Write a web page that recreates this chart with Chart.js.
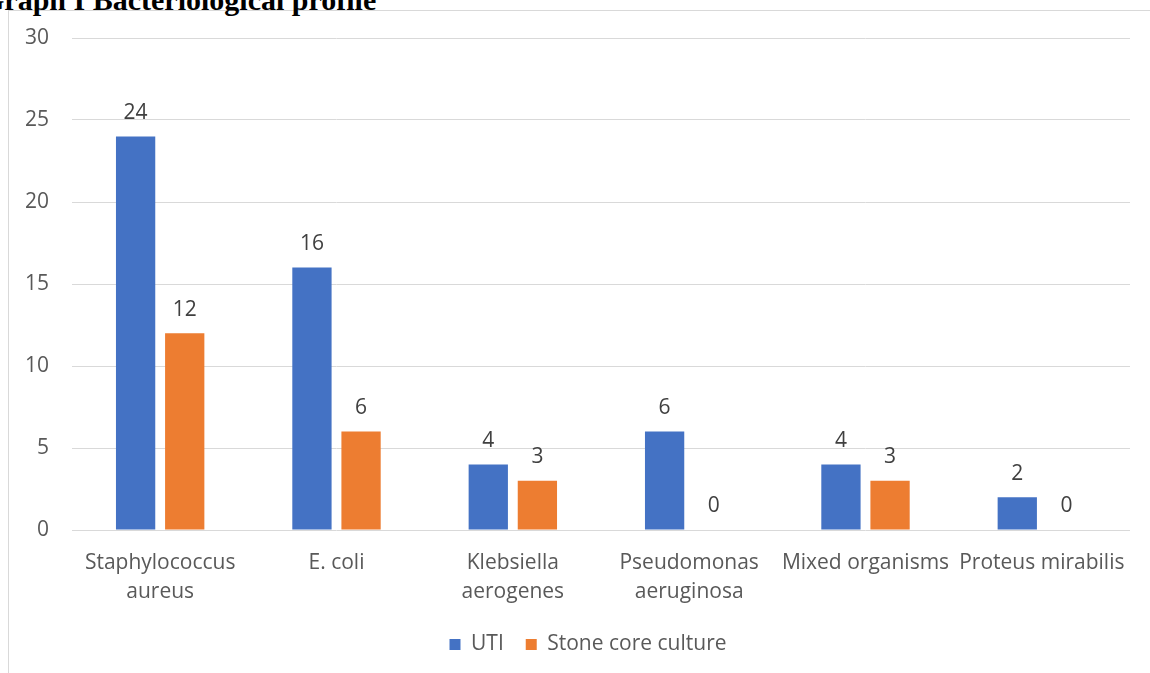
<!DOCTYPE html>
<html>
<head>
<meta charset="utf-8">
<script src="https://cdn.jsdelivr.net/npm/chart.js@4"></script>
<style>
  body { margin: 0; background: #fff; overflow: hidden; }
  #wrap { position: relative; width: 1150px; height: 673px; }
  #title {
    position: absolute; left: -19px; top: -17px;
    font: bold 30px "Liberation Serif", serif; color: #000; white-space: nowrap;
  }
  #frame {
    position: absolute; left: 8px; top: 10px; width: 1150px; height: 680px;
    border-left: 1px solid #d9d9d9; border-top: 1px solid #d9d9d9;
  }
  canvas { position: absolute; left: 0; top: 0; }
</style>
</head>
<body>
<div id="wrap">
  <div id="frame"></div>
  <div id="title">Graph I Bacteriological profile</div>
  <canvas id="myChart" width="1150" height="673"></canvas>
</div>
<script>
'use strict';

// chart data
var organisms = [
  ['Staphylococcus', 'aureus'],
  'E. coli',
  ['Klebsiella', 'aerogenes'],
  ['Pseudomonas', 'aeruginosa'],
  'Mixed organisms',
  'Proteus mirabilis'
];
var utiCounts = [24, 16, 4, 6, 4, 2];
var stoneCounts = [12, 6, 3, 0, 3, 0];
var seriesNames = ['UTI', 'Stone core culture'];
var yTicks = [0, 5, 10, 15, 20, 25, 30];

var fontFamily = '"Open Sans", "Liberation Sans", sans-serif';

// draws the value above each bar
var valueLabels = {
  id: 'valueLabels',
  afterDatasetsDraw: function(chart) {
    var ctx = chart.ctx;
    ctx.save();
    ctx.font = '21px ' + fontFamily;
    ctx.fillStyle = '#404040';
    ctx.textAlign = 'center';
    ctx.textBaseline = 'bottom';
    chart.data.datasets.forEach(function(ds, i) {
      chart.getDatasetMeta(i).data.forEach(function(bar, j) {
        ctx.fillText(String(ds.data[j]), bar.x, bar.y - 13);
      });
    });
    ctx.restore();
  }
};

// nudge the centred legend a bit to the right, like the original
var legendShift = {
  id: 'legendShift',
  afterLayout: function(chart) {
    if (chart.legend) {
      chart.legend.left += 23;
      chart.legend.right += 23;
    }
  }
};

var canvas = document.getElementById('myChart');
var ctx = canvas.getContext('2d');

var chartConfig = {
  type: 'bar',
  data: {
    labels: organisms,
    datasets: [
      { label: seriesNames[0], data: utiCounts, backgroundColor: '#4472C4' },
      { label: seriesNames[1], data: stoneCounts, backgroundColor: '#ED7D31' }
    ]
  },
  options: {
    responsive: false,
    animation: false,
    layout: { padding: { top: 38, right: 20, left: 0, bottom: 8 } },
    datasets: { bar: { categoryPercentage: 0.557, barPercentage: 0.8 } },
    plugins: {
      legend: {
        position: 'bottom',
        labels: {
          boxWidth: 11, boxHeight: 11, padding: 22,
          color: '#595959',
          font: { family: fontFamily, size: 21 }
        }
      },
      tooltip: { enabled: false }
    },
    scales: {
      x: {
        grid: { display: false },
        border: { display: false },
        ticks: {
          color: '#595959', padding: 10, maxRotation: 0, autoSkip: false,
          font: { family: fontFamily, size: 21, lineHeight: 1.4 }
        },
        afterFit: function(scale) { scale.height = 82; }
      },
      y: {
        min: 0, max: 30,
        afterBuildTicks: function(scale) {
          scale.ticks = yTicks.map(function(v) { return { value: v }; });
        },
        grid: { color: '#d9d9d9', drawTicks: false },
        border: { display: false },
        ticks: {
          color: '#595959', padding: 23,
          font: { family: fontFamily, size: 21 }
        },
        afterFit: function(scale) { scale.width = 72; }
      }
    }
  },
  plugins: [valueLabels, legendShift]
};

var barChart = new Chart(ctx, chartConfig);
</script>
</body>
</html>
